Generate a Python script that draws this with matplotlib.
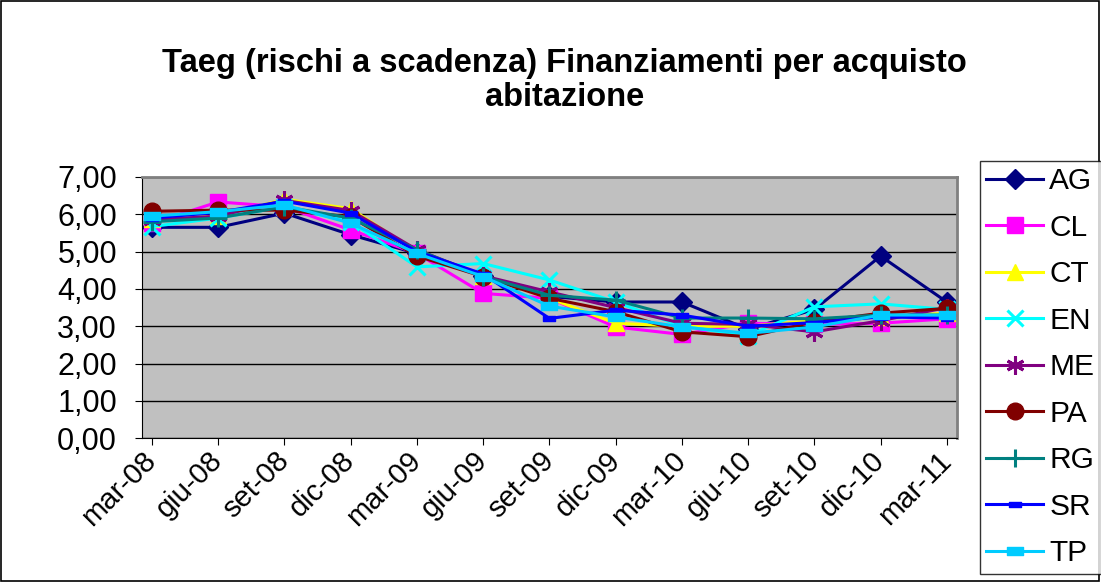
import matplotlib.pyplot as plt
import numpy as np
from matplotlib.path import Path

plt.rcParams['font.family'] = ['Liberation Sans', 'DejaVu Sans']

months = ["mar-08", "giu-08", "set-08", "dic-08", "mar-09", "giu-09", "set-09",
          "dic-09", "mar-10", "giu-10", "set-10", "dic-10", "mar-11"]

ag = [5.65, 5.65, 6.03, 5.45, 4.95, 4.35, 3.80, 3.65, 3.65, 2.92, 3.45, 4.88, 3.65]
cl = [5.76, 6.33, 6.20, 5.58, 4.95, 3.88, 3.75, 2.98, 2.78, 3.08, 3.05, 3.08, 3.20]
ct = [5.87, 5.95, 6.40, 6.15, 5.00, 4.35, 3.75, 3.08, 3.00, 3.00, 3.15, 3.25, 3.35]
en = [5.67, 5.90, 6.20, 5.80, 4.59, 4.68, 4.24, 3.65, 3.00, 2.75, 3.52, 3.60, 3.45]
me = [5.85, 5.95, 6.37, 6.10, 5.05, 4.35, 3.92, 3.50, 3.08, 3.05, 2.85, 3.15, 3.50]
pa = [6.08, 6.11, 6.11, 5.93, 4.88, 4.33, 3.75, 3.39, 2.85, 2.72, 3.12, 3.35, 3.48]
rg = [5.80, 5.90, 6.20, 5.90, 5.05, 4.33, 3.83, 3.70, 3.22, 3.22, 3.20, 3.30, 3.30]
sr = [5.90, 6.05, 6.35, 6.03, 5.00, 4.40, 3.21, 3.43, 3.30, 3.00, 3.10, 3.25, 3.22]
tp = [5.95, 6.07, 6.25, 5.76, 4.95, 4.33, 3.54, 3.25, 2.98, 2.81, 2.98, 3.30, 3.30]

# short horizontal bar marker for SR / TP
bar = Path([(-1, -0.45), (1, -0.45), (1, 0.45), (-1, 0.45), (-1, -0.45)],
           [Path.MOVETO, Path.LINETO, Path.LINETO, Path.LINETO, Path.CLOSEPOLY])

series = [
    ("AG", ag, "#000080", "D", 10),
    ("CL", cl, "#FF00FF", "s", 11),
    ("CT", ct, "#FFFF00", "^", 12),
    ("EN", en, "#00FFFF", "x", 12),
    ("ME", me, "#800080", (6, 2, 0), 13),
    ("PA", pa, "#800000", "o", 12),
    ("RG", rg, "#008080", "+", 13),
    ("SR", sr, "#0000FF", bar, 8),
    ("TP", tp, "#00CCFF", bar, 12),
]

fig = plt.figure(figsize=(11.01, 5.82), dpi=100)
ax = fig.add_axes([0.129, 0.247, 0.740, 0.449])
ax.set_facecolor("#C0C0C0")

x = np.arange(len(months))
for name, vals, col, mk, ms in series:
    ax.plot(x, vals, color=col, marker=mk, markersize=ms, linewidth=2.2,
            markeredgewidth=2.2 if mk in ("x", "+", (6, 2, 0)) else 1,
            markeredgecolor=col, markerfacecolor=col, label=name)

ax.set_ylim(0, 7)
ax.set_xlim(-0.15, 12.15)
ax.set_yticks(np.arange(0, 8))
ax.set_yticklabels([f"{v},00" for v in range(8)], fontsize=22)
ax.set_xticks(x)
ax.set_xticklabels(months, fontsize=21, rotation=45, ha="right", va="center",
                   rotation_mode="anchor")
ax.grid(axis="y", color="black", linewidth=1)
ax.set_axisbelow(True)
for s in ("top", "right"):
    ax.spines[s].set_color("#808080")
    ax.spines[s].set_linewidth(2)
ax.spines["left"].set_color("black")
ax.spines["bottom"].set_color("black")
ax.tick_params(axis="both", direction="out", length=5, color="black")
ax.tick_params(axis="y", pad=13)
ax.tick_params(axis="x", pad=8)

fig.text(0.513, 0.862, "Taeg (rischi a scadenza) Finanziamenti per acquisto\nabitazione",
         ha="center", va="center", fontsize=23.5, fontweight="bold",
         linespacing=1.12)

leg = fig.legend(loc="upper left", bbox_to_anchor=(0.890, 0.724),
                 fontsize=21.5, frameon=True, fancybox=False,
                 edgecolor="black", borderpad=0.22, labelspacing=0.62,
                 handlelength=1.9, handletextpad=0.2, borderaxespad=0)
leg.get_frame().set_linewidth(1)

# outer border
fig.patches.append(plt.Rectangle((0.001, 0.002), 0.997, 0.996, transform=fig.transFigure,
                                 fill=False, edgecolor="black", linewidth=1.2))

fig.savefig("out.png", dpi=100)
